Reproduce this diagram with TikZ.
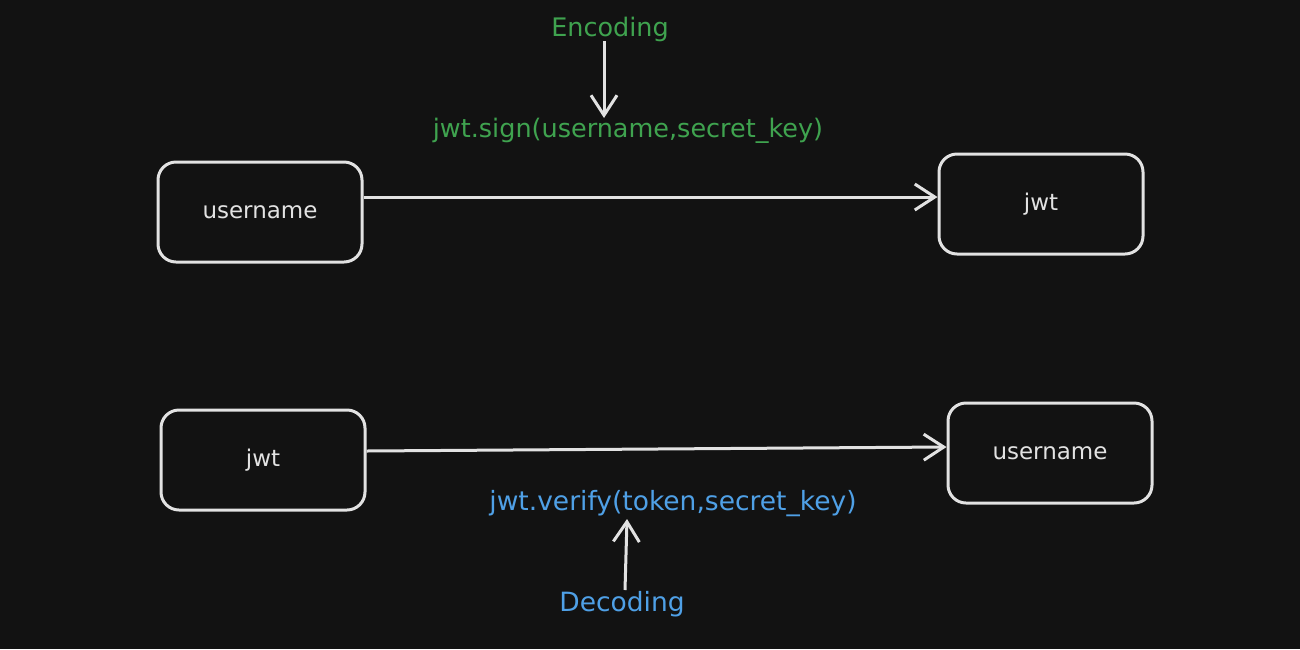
\documentclass[tikz,border=0pt]{standalone}
\usepackage{fontspec}
\setmainfont{DejaVu Sans}
\usetikzlibrary{arrows.meta}
\definecolor{bgc}{HTML}{121212}
\definecolor{strk}{HTML}{E2E2E2}
\definecolor{encg}{HTML}{3FA34F}
\definecolor{decb}{HTML}{4FA0E6}
\tikzset{
  box/.style={draw=strk, line width=3pt, rounded corners=18pt, minimum width=204pt, minimum height=100pt, text=strk, font=\fontsize{23}{27}\selectfont, inner sep=0pt},
  conn/.style={draw=strk, line width=3pt, -{Straight Barb[length=20pt,width=26pt,line width=3pt]}},
  enclbl/.style={text=encg, font=\fontsize{25.5}{30}\selectfont, inner sep=1pt},
  declbl/.style={text=decb, font=\fontsize{26.5}{31}\selectfont, inner sep=1pt},
}
\begin{document}
\begin{tikzpicture}[x=1pt,y=-1pt]
\useasboundingbox[fill=bgc] (0,0) rectangle (1300,649);
\node[box] (u1) at (260,212) {username};
\node[box] (j1) at (1041,204) {jwt};
\node[box] (j2) at (263,460) {jwt};
\node[box] (u2) at (1050,453) {username};
\draw[conn] (u1.east |- 0,197) -- (j1.west |- 0,197);
\draw[conn] (j2.east |- 0,451) -- (u2.west |- 0,447);
\node[enclbl] (enc) at (610,29) {Encoding};
\node[enclbl] (sign) at (628,131) {jwt.sign(username,secret\_key)};
\draw[conn] (604,41) coordinate (ea) -- (604,118) coordinate (eb);
\node[declbl] (ver) at (673,504) {jwt.verify(token,secret\_key)};
\node[declbl] (dec) at (622,604) {Decoding};
\draw[conn] (625,590) coordinate (da) -- (627,519) coordinate (db);
\end{tikzpicture}
\end{document}
